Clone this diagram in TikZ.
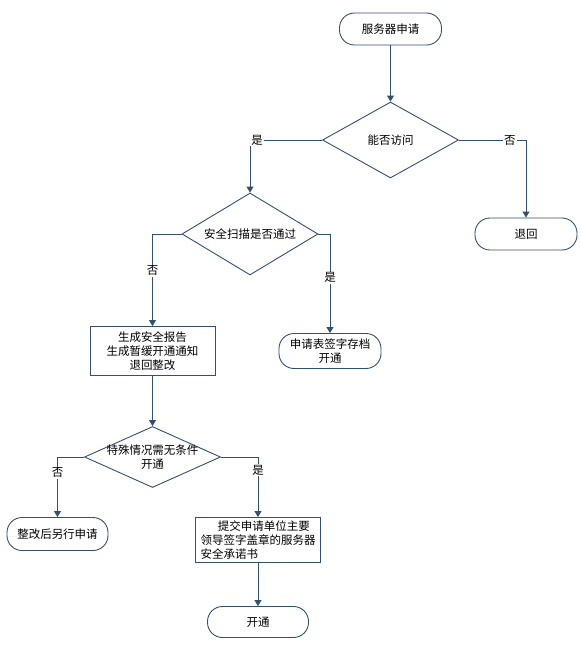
\documentclass[tikz,border=0pt]{standalone}
\usepackage{fontspec}
\setmainfont{Noto Sans CJK SC}
\usepackage{xcolor}
\usetikzlibrary{arrows.meta, shapes.geometric}
\definecolor{flowline}{HTML}{34506F}

\begin{document}
\begin{tikzpicture}[
			x=1pt, y=-1pt,
			font=\fontsize{11.5}{14}\selectfont,
			term/.style={rectangle, rounded corners=15pt, draw=flowline, line width=0.9pt,
				minimum width=102pt, minimum height=32pt, inner sep=0pt, align=center},
			proc/.style={rectangle, draw=flowline, line width=0.9pt,
				minimum width=125pt, inner sep=2pt},
			decide/.style={diamond, draw=flowline, line width=0.9pt,
				minimum width=136pt, inner sep=0pt},
			yn/.style={fill=white, inner sep=1pt},
			arr/.style={-{Triangle[length=6pt, width=7pt]}, draw=flowline, line width=0.9pt}
			]
			\useasboundingbox (0,0) rectangle (581,646);
			
			\node[term] (start) at (390.5,29) {服务器申请};
			\node[decide, minimum height=76pt, label=center:能否访问] (q1) at (390.5,140) {};
			\node[term] (back) at (526,234) {退回};
			\node[decide, minimum height=82pt, label=center:安全扫描是否通过] (q2) at (250,234) {};
			\node[proc, minimum height=49pt, align=center] (report) at (152.5,351) {生成安全报告\\生成暂缓开通通知\\退回整改};
			\node[term, minimum height=35pt] (archive) at (330,351) {申请表签字存档\\开通};
			\node[decide, minimum height=61pt, label={[align=center]center:{特殊情况需无条件\\开通}}] (q3) at (152.5,457) {};
			\node[term, minimum width=101pt, minimum height=33pt] (redo) at (57.5,534) {整改后另行申请};
			\node[proc, minimum height=45pt, align=left] (pledge) at (258,540) {\hspace{1.5em}提交申请单位主要\\领导签字盖章的服务器\\安全承诺书};
			\node[term, minimum width=101pt, minimum height=31pt] (open) at (258,622) {开通};
			
			\draw[arr] (start) -- (q1);
			\draw[arr] (q1.east) -| node[yn, pos=0.38] {否} (back.north);
			\draw[arr] (q1.west) -| node[yn, pos=0.45] {是} (q2.north);
			\draw[arr] (q2.west) -| node[yn, pos=0.7] {否} (report.north);
			\draw[arr] (q2.east) -| node[yn, pos=0.72] {是} (archive.north);
			\draw[arr] (report) -- (q3);
			\draw[arr] (q3.west) -| node[yn, pos=0.63] {否} (redo.north);
			\draw[arr] (q3.east) -| node[yn, pos=0.61] {是} (pledge.north);
			\draw[arr] (pledge) -- (open);
		\end{tikzpicture}
\end{document}
